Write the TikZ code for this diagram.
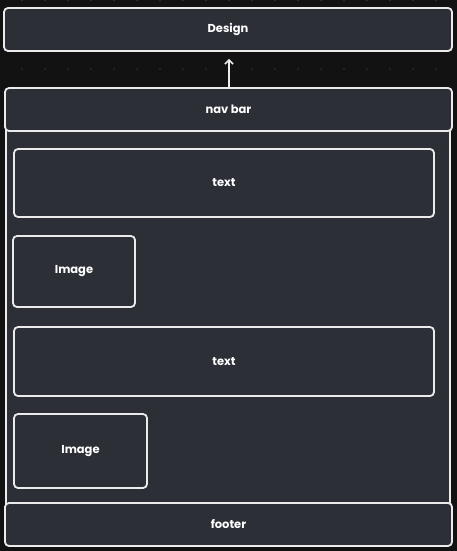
\documentclass[tikz,border=0pt]{standalone}
\usepackage{fontspec}
\setmainfont{Poppins}
\usetikzlibrary{arrows.meta}
\begin{document}
\begin{tikzpicture}[x=1pt,y=-1pt,
  box/.style={draw=white!92!black, line width=1.8pt, rounded corners=4pt, fill=boxfill,
    inner sep=0pt, text=white, font=\fontsize{11.5}{13}\selectfont\bfseries}]
\definecolor{bg}{RGB}{18,18,18}
\definecolor{boxfill}{RGB}{45,47,54}
\definecolor{dotgrey}{RGB}{52,52,56}
\fill[bg] (0,0) rectangle (457,551);
\useasboundingbox (0,0) rectangle (457,551);
\foreach \i in {0,...,19} {
  \fill[dotgrey] (22+23*\i,69) circle (0.9pt);
  \fill[dotgrey] (22+23*\i,0.5) circle (0.9pt);
}
\node[box, minimum width=444pt, minimum height=456pt] (container) at (228,317) {};
\node[box, minimum width=448pt, minimum height=43pt] (design) at (228,29.5) {Design};
\node[box, minimum width=447pt, minimum height=43pt] (nav) at (228.5,109.5) {nav bar};
\node[box, minimum width=420pt, minimum height=68pt] (text1) at (224,183) {text};
\node[box, minimum width=122pt, minimum height=71pt] (img1) at (74,271.5) {Image};
\node[box, minimum width=420pt, minimum height=69pt] (text2) at (224,361.5) {text};
\node[box, minimum width=133pt, minimum height=74pt] (img2) at (80.5,451) {Image};
\node[box, minimum width=447pt, minimum height=43pt] (footer) at (228.5,524.5) {footer};
\draw[white!92!black, line width=1.6pt, -{Straight Barb[length=4pt,width=8pt]}]
  (nav.north -| 229,0) -- ([yshift=-7pt]design.south -| 229,0);
\end{tikzpicture}
\end{document}
